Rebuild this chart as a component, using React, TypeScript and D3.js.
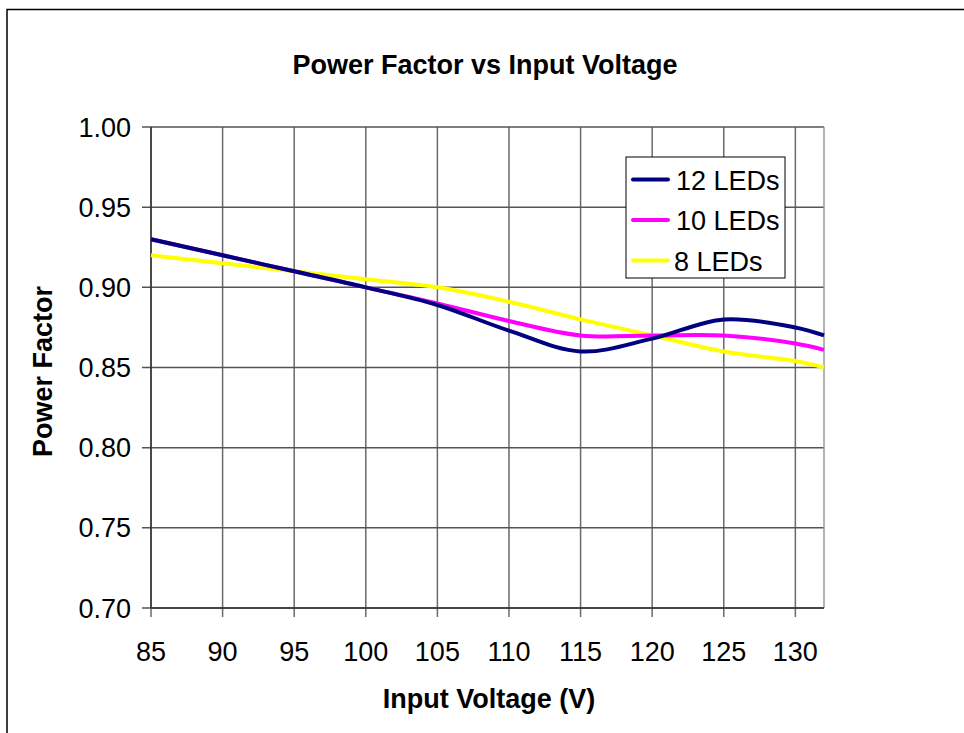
import React from "react";
import * as d3 from "d3";

// input voltages (V)
const voltages = [85, 90, 95, 100, 105, 110, 115, 120, 125, 130, 132];

// power factor per LED string
const led12 = [0.93, 0.92, 0.91, 0.9, 0.889, 0.873, 0.86, 0.868, 0.88, 0.875, 0.87];
const led10 = [0.93, 0.92, 0.91, 0.9, 0.89, 0.879, 0.87, 0.87, 0.87, 0.865, 0.861];
const led8 = [0.92, 0.915, 0.91, 0.905, 0.9, 0.891, 0.88, 0.87, 0.86, 0.854, 0.85];

const seriesNames = ["12 LEDs", "10 LEDs", "8 LEDs"];
const seriesColors = ["#000080", "#ff00ff", "#ffff00"];

const xTicks = [85, 90, 95, 100, 105, 110, 115, 120, 125, 130];
const yTicks = [0.7, 0.75, 0.8, 0.85, 0.9, 0.95, 1.0];

const W = 964;
const H = 733;
const left = 151;
const right = 824;
const top = 127;
const bottom = 608;

const font = "Arial, 'Liberation Sans', Helvetica, sans-serif";

export default function App() {
  const x = d3.scaleLinear().domain([85, 132]).range([left, right]);
  const y = d3.scaleLinear().domain([0.7, 1.0]).range([bottom, top]);

  const line = d3
    .line<number>()
    .x((_, i) => x(voltages[i]))
    .y((d) => y(d))
    .curve(d3.curveCatmullRom.alpha(0.5));

  const series = [led12, led10, led8];

  // draw yellow first so navy sits on top like the original
  const order = [2, 1, 0];

  return (
    <svg
      width={W}
      height={H}
      style={{ position: "absolute", left: 0, top: 0, background: "#fff" }}
      fontFamily={font}
    >
      <rect x={7} y={9.5} width={1000} height={800} fill="#fff" stroke="#000" strokeWidth={1.5} />

      <text x={485} y={74} textAnchor="middle" fontSize={27} fontWeight="bold">
        Power Factor vs Input Voltage
      </text>

      {/* grid */}
      {xTicks.map((t) => (
        <line key={"gx" + t} x1={x(t)} x2={x(t)} y1={top} y2={bottom + 9} stroke="#6a6a6a" strokeWidth={1.5} />
      ))}
      {yTicks.map((t) => (
        <line key={"gy" + t} x1={left - 9} x2={right} y1={y(t)} y2={y(t)} stroke="#555" strokeWidth={1.5} />
      ))}
      <line x1={right} x2={right} y1={top} y2={bottom} stroke="#9a9a9a" strokeWidth={1.5} />
      <line x1={left} x2={left} y1={top} y2={bottom} stroke="#333" strokeWidth={1.5} />
      <line x1={left} x2={right} y1={bottom} y2={bottom} stroke="#333" strokeWidth={1.5} />

      {/* tick labels */}
      {yTicks.map((t) => (
        <text key={"ty" + t} x={131} y={y(t) + 9.5} textAnchor="end" fontSize={27}>
          {d3.format(".2f")(t)}
        </text>
      ))}
      {xTicks.map((t) => (
        <text key={"tx" + t} x={x(t)} y={661} textAnchor="middle" fontSize={27}>
          {t}
        </text>
      ))}

      <text x={489} y={708} textAnchor="middle" fontSize={27} fontWeight="bold">
        Input Voltage (V)
      </text>
      <text
        transform={`translate(52,${(top + bottom) / 2 + 4}) rotate(-90)`}
        textAnchor="middle"
        fontSize={27}
        fontWeight="bold"
      >
        Power Factor
      </text>

      {/* series */}
      {order.map((i) => (
        <path key={seriesNames[i]} d={line(series[i]) || ""} fill="none" stroke={seriesColors[i]} strokeWidth={4} />
      ))}

      {/* legend */}
      <rect x={626} y={157} width={159} height={121} fill="#fff" stroke="#000" strokeWidth={1} />
      {seriesNames.map((name, i) => {
        const ly = 179.5 + i * 40.5;
        return (
          <g key={"lg" + name}>
            <line x1={633} x2={668} y1={ly} y2={ly} stroke={seriesColors[i]} strokeWidth={4} strokeLinecap="round" />
            <text x={i === 2 ? 674 : 676} y={ly + 10} fontSize={27}>
              {name}
            </text>
          </g>
        );
      })}
    </svg>
  );
}
